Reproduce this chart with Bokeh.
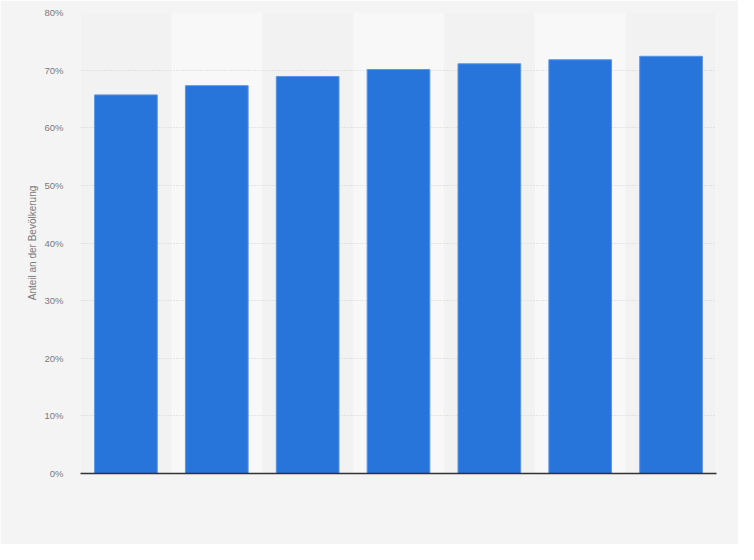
from bokeh.plotting import figure
from bokeh.models import Range1d, FixedTicker, CustomJSTickFormatter
from bokeh.embed import file_html
from bokeh.resources import INLINE

positions = [1, 2, 3, 4, 5, 6, 7]
values = [65.7, 67.3, 68.9, 70.1, 71.1, 71.8, 72.4]
band_positions = [2, 4, 6]
y_ticks = [0, 10, 20, 30, 40, 50, 60, 70, 80]
y_label = "Anteil an der Bevölkerung"

p = figure(width=738, height=544, output_backend="svg", toolbar_location=None,
           x_range=Range1d(0.5, 7.5), y_range=Range1d(0, 80),
           min_border_left=80, min_border_right=22, min_border_top=12, min_border_bottom=71)
p.background_fill_color = "#f2f2f2"
p.border_fill_color = "#f4f4f4"
p.outline_line_color = None

p.vbar(x=band_positions, width=1.0, top=80, bottom=0, fill_color="#f8f8f8",
       line_color=None, level="image")

p.vbar(x=positions, width=0.69, top=values, bottom=0, fill_color="#2775db",
       line_color="#5b94e4", line_width=1)

p.xgrid.grid_line_color = None
p.ygrid.grid_line_color = "#d0d0d0"
p.ygrid.grid_line_dash = "1 2"
p.ygrid.ticker = FixedTicker(ticks=y_ticks)

p.xaxis.ticker = FixedTicker(ticks=[])
p.xaxis.major_tick_line_color = None
p.xaxis.minor_tick_line_color = None
p.xaxis.axis_line_color = "#333333"
p.xaxis.axis_line_width = 1.5

p.yaxis.ticker = FixedTicker(ticks=y_ticks)
p.yaxis.formatter = CustomJSTickFormatter(code="return tick + '%';")
p.yaxis.axis_line_color = None
p.yaxis.major_tick_line_color = None
p.yaxis.minor_tick_line_color = None
p.yaxis.major_label_text_font = "Liberation Sans"
p.yaxis.major_label_text_font_size = "9.5px"
p.yaxis.major_label_text_color = "#7a7a7a"
p.yaxis.major_label_standoff = 11
p.yaxis.axis_label = y_label
p.yaxis.axis_label_text_font = "Liberation Sans"
p.yaxis.axis_label_text_font_style = "normal"
p.yaxis.axis_label_text_font_size = "10px"
p.yaxis.axis_label_text_color = "#7a7a7a"
p.yaxis.axis_label_standoff = 3

open("out.html", "w").write(file_html(p, INLINE))
